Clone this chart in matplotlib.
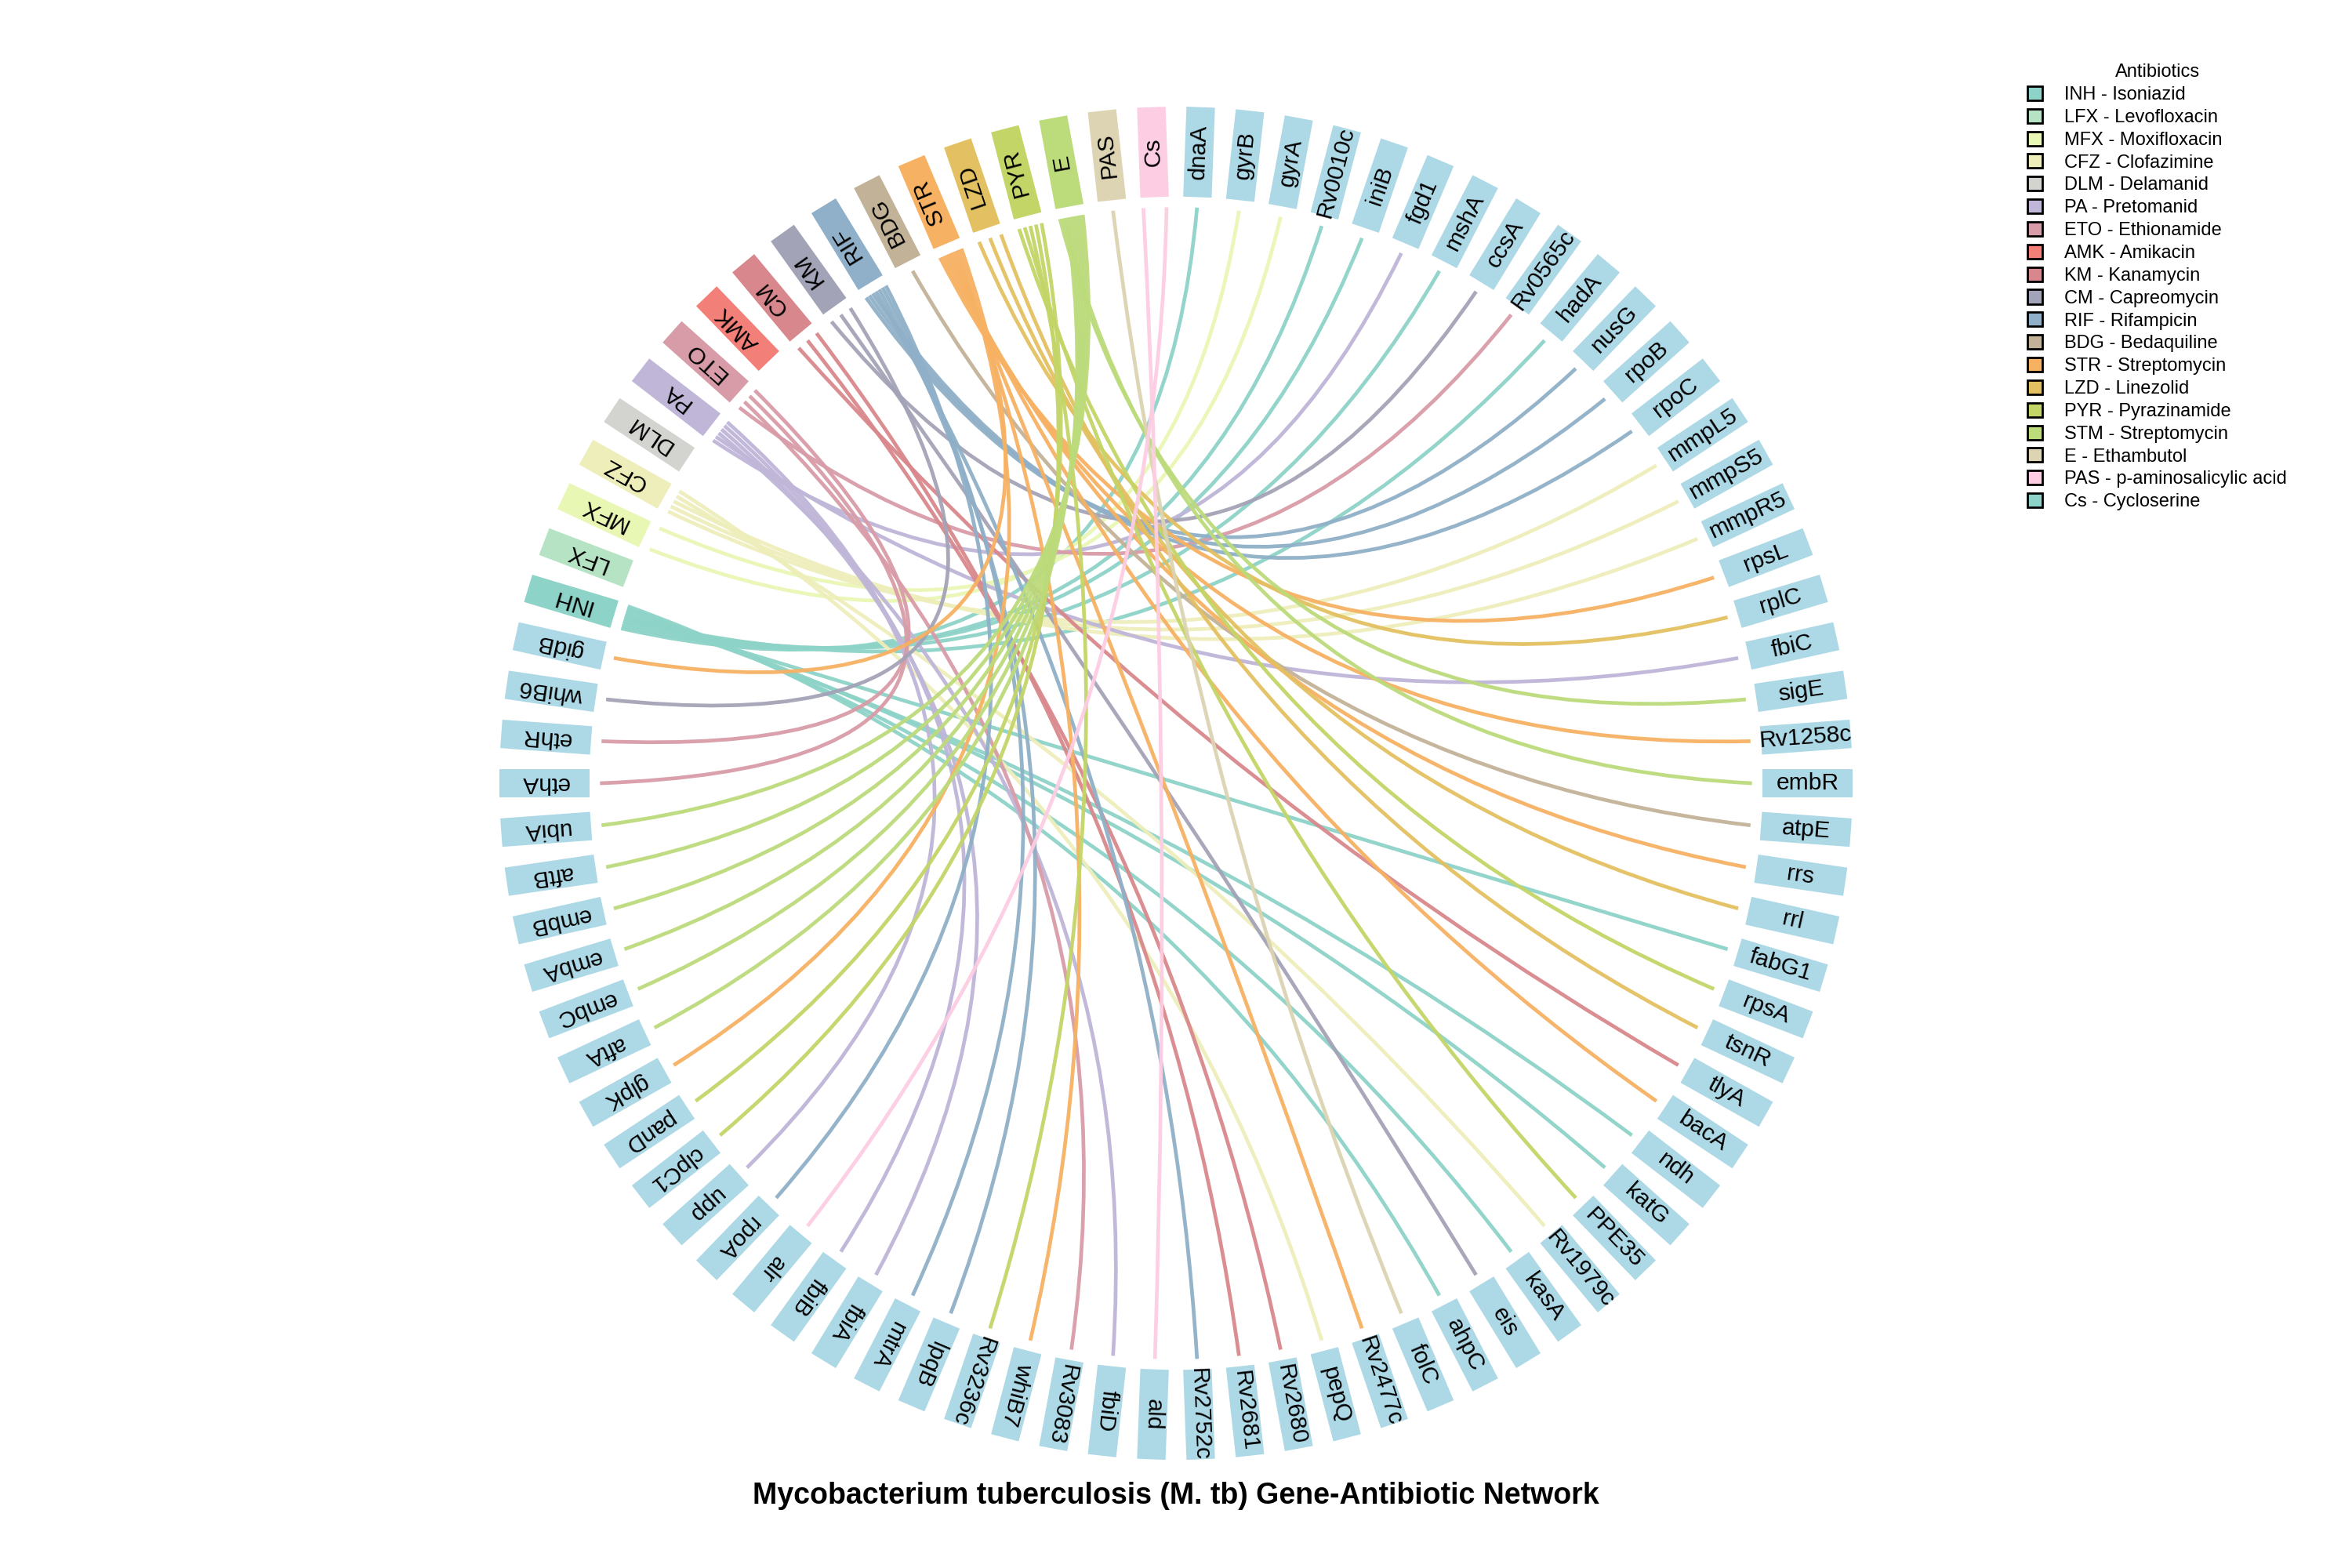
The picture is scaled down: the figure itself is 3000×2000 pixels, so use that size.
import numpy as np
import matplotlib
matplotlib.use("Agg")
from matplotlib import pyplot as plt
from matplotlib.patches import Polygon, Patch
from matplotlib.path import Path
from matplotlib.patches import PathPatch

plt.rcParams["font.family"] = ["Liberation Sans", "DejaVu Sans"]

# antibiotics as placed on the ring (clockwise from INH) and their box colours
drugs = ["INH", "LFX", "MFX", "CFZ", "DLM", "PA", "ETO", "AMK", "CM", "KM",
         "RIF", "BDG", "STR", "LZD", "PYR", "E", "PAS", "Cs"]
drug_colors = ["#8dd3c7", "#b5e3c3", "#e9f7b5", "#eeeebb", "#d3d3cf", "#bfb6d8",
               "#d89ca8", "#f28078", "#d8888c", "#a3a3b7", "#8fb0c8", "#c2b298",
               "#f6b163", "#e3c061", "#c4d567", "#bcdb7b", "#dcd4b2", "#fdcde3"]

# legend entries
legend_labels = ["INH - Isoniazid", "LFX - Levofloxacin", "MFX - Moxifloxacin",
                 "CFZ - Clofazimine", "DLM - Delamanid", "PA - Pretomanid",
                 "ETO - Ethionamide", "AMK - Amikacin", "KM - Kanamycin",
                 "CM - Capreomycin", "RIF - Rifampicin", "BDG - Bedaquiline",
                 "STR - Streptomycin", "LZD - Linezolid", "PYR - Pyrazinamide",
                 "STM - Streptomycin", "E - Ethambutol", "PAS - p-aminosalicylic acid",
                 "Cs - Cycloserine"]
legend_colors = ["#8dd3c7", "#b5e3c3", "#e9f7b5", "#eeeebb", "#d3d3cf", "#bfb6d8",
                 "#d89ca8", "#f28078", "#d8888c", "#a3a3b7", "#8fb0c8", "#c2b298",
                 "#f6b163", "#e3c061", "#c4d567", "#bcdb7b", "#dcd4b2", "#fdcde3",
                 "#8dd3c7"]

# genes clockwise from the top, with the antibiotic each one links to
genes = ["dnaA", "gyrB", "gyrA", "Rv0010c", "iniB", "fgd1", "mshA", "ccsA", "Rv0565c",
         "hadA", "nusG", "rpoB", "rpoC", "mmpL5", "mmpS5", "mmpR5", "rpsL", "rplC",
         "fbiC", "sigE", "Rv1258c", "embR", "atpE", "rrs", "rrl", "fabG1", "rpsA",
         "tsnR", "tlyA", "bacA", "ndh", "katG", "PPE35", "Rv1979c", "kasA", "eis",
         "ahpC", "folC", "Rv2477c", "pepQ", "Rv2680", "Rv2681", "Rv2752c", "ald",
         "fbiD", "Rv3083", "whiB7", "Rv3236c", "lpqB", "mtrA", "fbiA", "fbiB", "alr",
         "rpoA", "upp", "clpC1", "panD", "glpK", "aftA", "embC", "embA", "embB",
         "aftB", "ubiA", "ethA", "ethR", "whiB6", "gidB"]
gene_drug = ["INH", "MFX", "MFX", "INH", "INH", "PA", "INH", "KM", "ETO",
             "INH", "RIF", "RIF", "RIF", "CFZ", "CFZ", "CFZ", "STR", "LZD",
             "PA", "E", "STR", "E", "BDG", "STR", "LZD", "INH", "PYR",
             "LZD", "CM", "STR", "INH", "INH", "PYR", "CFZ", "INH", "KM",
             "INH", "PAS", "STR", "CFZ", "CM", "CM", "RIF", "Cs",
             "PA", "ETO", "STR", "PYR", "RIF", "RIF", "PA", "PA", "Cs",
             "RIF", "PA", "PYR", "PYR", "STR", "E", "E", "E", "E",
             "E", "E", "ETO", "ETO", "KM", "STR"]

gene_color = "#add8e6"
nodes = drugs + genes
n = len(nodes)
step = 2 * np.pi / n
# Cs sits just left of the top, dnaA just right; order runs clockwise
cs_idx = drugs.index("Cs")
angles = {}
for i, name in enumerate(nodes):
    angles[name] = np.pi / 2 + step / 2 - (i - cs_idx) * step

r_in, r_out = 391, 451
r_line = 384
box_w = 19

fig = plt.figure(figsize=(15, 10), dpi=200)
ax = fig.add_axes([0, 0, 1, 1])
ax.set_xlim(-784, 784)
ax.set_ylim(-523, 522)
ax.set_aspect("equal")
ax.axis("off")

# fan the edges a little at each antibiotic
drug_edges = {d: [g for g, dd in zip(genes, gene_drug) if dd == d] for d in drugs}

for g, d in zip(genes, gene_drug):
    ag = angles[g]
    lst = drug_edges[d]
    k = lst.index(g)
    m = len(lst)
    off = 0 if m == 1 else (k / (m - 1) - 0.5) * 0.55 * step
    ad = angles[d] - off
    p0 = (r_line * np.cos(ad), r_line * np.sin(ad))
    p2 = (r_line * np.cos(ag), r_line * np.sin(ag))
    mid = ((p0[0] + p2[0]) * 0.05, (p0[1] + p2[1]) * 0.05)
    path = Path([p0, mid, p2], [Path.MOVETO, Path.CURVE3, Path.CURVE3])
    c = drug_colors[drugs.index(d)]
    ax.add_patch(PathPatch(path, facecolor="none", edgecolor=c, lw=1.7,
                           alpha=0.95, zorder=1, capstyle="butt"))

for name in nodes:
    a = angles[name]
    u = np.array([np.cos(a), np.sin(a)])
    t = np.array([-np.sin(a), np.cos(a)])
    pts = [r_in * u - box_w / 2 * t, r_out * u - box_w / 2 * t,
           r_out * u + box_w / 2 * t, r_in * u + box_w / 2 * t]
    col = drug_colors[drugs.index(name)] if name in drugs else gene_color
    ax.add_patch(Polygon(pts, closed=True, facecolor=col, edgecolor="none", zorder=2))
    rm = (r_in + r_out) / 2
    ax.text(rm * u[0], rm * u[1], name, rotation=np.degrees(a), rotation_mode="anchor",
            ha="center", va="center", fontsize=10.8, zorder=3)

ax.text(0, -475, "Mycobacterium tuberculosis (M. tb) Gene-Antibiotic Network",
        ha="center", va="center", fontsize=13.5, fontweight="bold")

handles = [Patch(facecolor=c, edgecolor="black", lw=1) for c in legend_colors]
leg = fig.legend(handles, legend_labels, title="Antibiotics", loc="upper left",
                 bbox_to_anchor=(0.855, 0.97), frameon=False, fontsize=8.5,
                 title_fontsize=8.5, handlelength=0.8, handleheight=0.8,
                 labelspacing=0.28, handletextpad=1.2)

fig.savefig("out.png", dpi=200)
